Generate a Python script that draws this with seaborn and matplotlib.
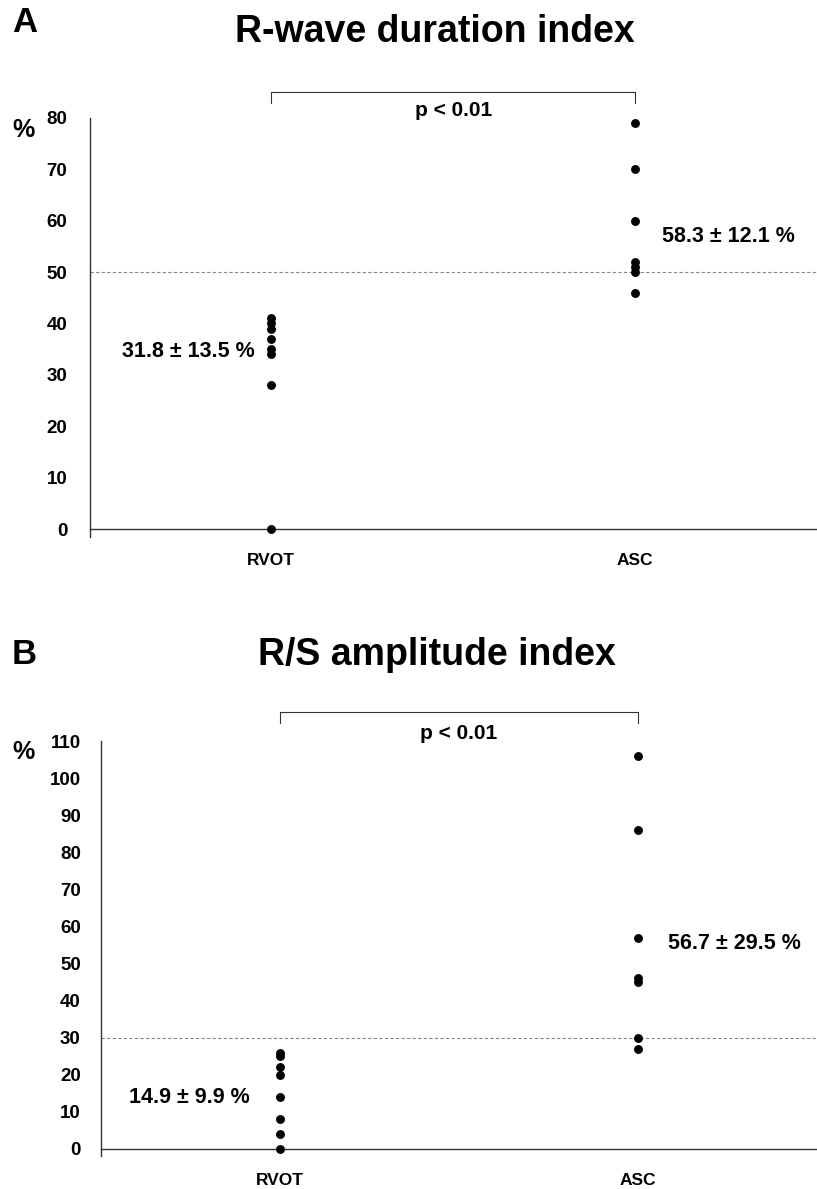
import matplotlib
matplotlib.use("Agg")
import matplotlib.pyplot as plt
import seaborn as sns
import pandas as pd
import numpy as np

categories = ["RVOT", "ASC"]

# Panel A: R-wave duration index (%)
a_rvot = [41, 40, 39, 37, 35, 34, 28, 0]
a_asc = [79, 70, 60, 52, 51, 50, 46]
a_labels = ["31.8 ± 13.5 %", "58.3 ± 12.1 %"]
a_cutoff = 50
a_yticks = [0, 10, 20, 30, 40, 50, 60, 70, 80]

# Panel B: R/S amplitude index (%)
b_rvot = [26, 25, 22, 20, 14, 8, 4, 0]
b_asc = [106, 86, 57, 46, 45, 30, 27]
b_labels = ["14.9 ± 9.9 %", "56.7 ± 29.5 %"]
b_cutoff = 30
b_yticks = [0, 10, 20, 30, 40, 50, 60, 70, 80, 90, 100, 110]

sns.set_style("white")
plt.rcParams['font.family'] = ['Liberation Sans', 'DejaVu Sans']
plt.rcParams['font.weight'] = 'bold'
for k in ['text.color', 'axes.labelcolor', 'xtick.color', 'ytick.color']:
    plt.rcParams[k] = 'black'

W, H = 817, 1189
fig = plt.figure(figsize=(W / 100, H / 100), dpi=100)


def fx(px):
    return px / W


def fy(py):
    return 1 - py / H


def panel(rect, rvot, asc, labels, cutoff, yticks, ylim, xright, bracket_y, leg_y, p_y,
          lab_pos, ypad):
    ax = fig.add_axes(rect)
    df = pd.DataFrame({
        "group": [categories[0]] * len(rvot) + [categories[1]] * len(asc),
        "value": rvot + asc,
    })
    sns.stripplot(data=df, x="group", y="value", order=categories, jitter=False,
                  color="black", size=6.4, linewidth=0, ax=ax, zorder=3, clip_on=False)
    ax.set_xlim(-0.5, xright)
    ax.set_ylim(*ylim)
    ax.axhline(cutoff, color="#888888", lw=0.8, ls=(0, (3, 2)), zorder=1)
    for s in ["top", "right"]:
        ax.spines[s].set_visible(False)
    ax.spines["bottom"].set_position(("data", 0))
    for s in ["left", "bottom"]:
        ax.spines[s].set_color("#333333")
        ax.spines[s].set_linewidth(1.0)
    ax.set_yticks(yticks)
    ax.set_yticklabels([str(t) for t in yticks], fontsize=13.5, fontweight="bold")
    ax.tick_params(axis="y", direction="out", length=7.5, width=0.8, pad=ypad,
                   colors="#333333", labelcolor="black")
    ax.set_xticks([0, 1])
    ax.set_xticklabels(categories, fontsize=12.5, fontweight="bold")
    ax.tick_params(axis="x", which="major", length=0, pad=17, labelcolor="black")
    ax.set_xticks([-0.5, 0.5, 1.5], minor=True)
    ax.tick_params(axis="x", which="minor", direction="out", length=7, width=0.8,
                   colors="#333333")
    ax.set_xlabel("")
    ax.set_ylabel("")
    # bracket
    ax.plot([0, 0, 1, 1], [leg_y, bracket_y, bracket_y, leg_y], color="#333333", lw=0.8,
            clip_on=False)
    ax.text(0.5, p_y, "p < 0.01", ha="center", va="center", fontsize=15,
            fontweight="bold")
    (x0, y0, ha0), (x1, y1, ha1) = lab_pos
    ax.text(x0, y0, labels[0], ha=ha0, va="center", fontsize=15.5, fontweight="bold")
    ax.text(x1, y1, labels[1], ha=ha1, va="center", fontsize=15.5, fontweight="bold")
    return ax


# Panel A
a_bottom_px = 529 + 1.6 * 5.1375
panel([fx(89.5), fy(a_bottom_px), fx(817 - 89.5), fy(118) - fy(a_bottom_px)],
      a_rvot, a_asc, a_labels, a_cutoff, a_yticks, (-1.6, 80),
      -0.5 + (817 - 89.5) / 367, 85.1, 82.9, 81.4,
      [(-0.045, 34.5, "right"), (1.075, 57, "left")], 8.5)

# Panel B
b_bottom_px = 1149 + 2 * 3.709
panel([fx(101), fy(b_bottom_px), fx(817 - 101), fy(741) - fy(b_bottom_px)],
      b_rvot, b_asc, b_labels, b_cutoff, b_yticks, (-2, 110),
      -0.5 + (817 - 101) / 362, 117.8, 114.8, 112.1,
      [(-0.085, 14, "right"), (1.085, 55.5, "left")], 7)

# Titles and panel letters
fig.text(fx(435), fy(32), "R-wave duration index", ha="center", va="center",
         fontsize=27, fontweight="bold")
fig.text(fx(437), fy(655), "R/S amplitude index", ha="center", va="center",
         fontsize=27, fontweight="bold")
fig.text(fx(12), fy(22), "A", ha="left", va="center", fontsize=25, fontweight="bold")
fig.text(fx(12), fy(655), "B", ha="left", va="center", fontsize=25, fontweight="bold")
fig.text(fx(12), fy(130), "%", ha="left", va="center", fontsize=18, fontweight="bold")
fig.text(fx(12), fy(752), "%", ha="left", va="center", fontsize=18, fontweight="bold")

fig.savefig("out.png", dpi=100)
